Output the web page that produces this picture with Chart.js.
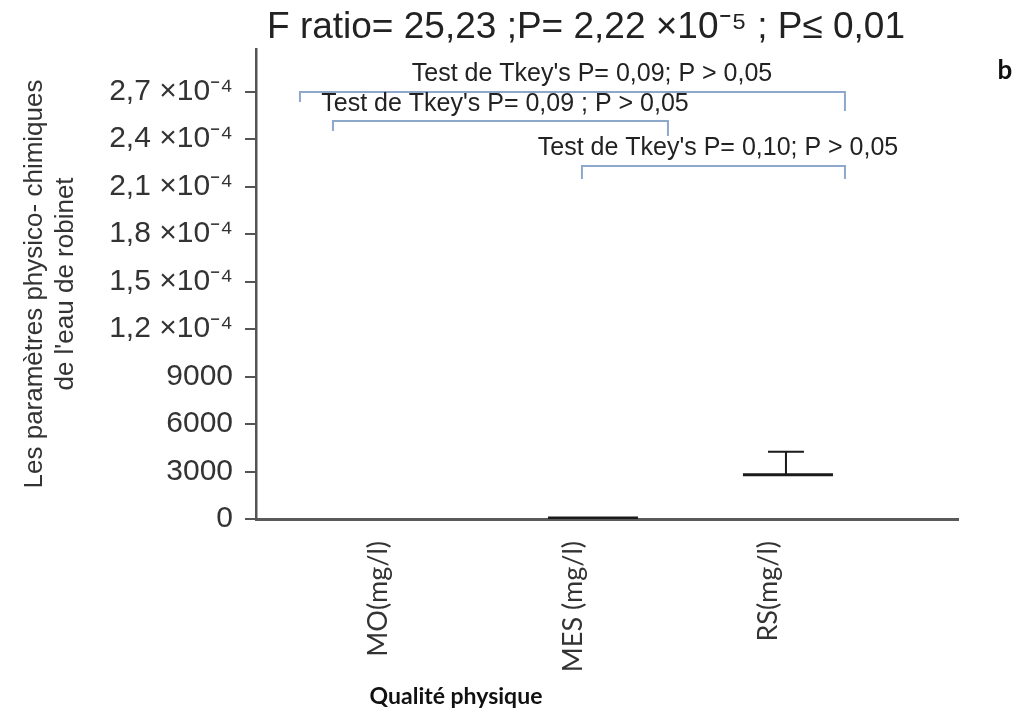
<!DOCTYPE html>
<html>
<head>
<meta charset="utf-8">
<script src="https://cdn.jsdelivr.net/npm/chart.js@4.4.1/dist/chart.umd.min.js"></script>
<style>
  html, body { margin: 0; padding: 0; background: #ffffff; }
  #wrap { width: 1019px; height: 710px; position: relative; }
</style>
</head>
<body>
<div id="wrap"><canvas id="c" width="1019" height="710"></canvas></div>
<script>
// ---- data ----
const categories = ['MO(mg/l)', 'MES (mg/l)', 'RS(mg/l)'];
const means = [null, 60, 2800];
const errorUpper = [null, null, 4250];
const yTickValues = [0, 3000, 6000, 9000, 12000, 15000, 18000, 21000, 24000, 27000];
const yTickLabels = ['0', '3000', '6000', '9000', '1,2 ×10⁻⁴', '1,5 ×10⁻⁴', '1,8 ×10⁻⁴', '2,1 ×10⁻⁴', '2,4 ×10⁻⁴', '2,7 ×10⁻⁴'];
const comparisonPairs = [[0, 2], [0, 1], [1, 2]];
const comparisonTexts = [
  "Test de Tkey's P= 0,09; P > 0,05",
  "Test de Tkey's P= 0,09 ; P > 0,05",
  "Test de Tkey's P= 0,10; P > 0,05"
];
const chartTitle = 'F ratio= 25,23 ;P= 2,22 ×10⁻⁵ ; P≤ 0,01';
const yTitle = ['Les paramètres physico- chimiques', "de l'eau de robinet"];
const xTitle = 'Qualité physique';
const panelLetter = 'b';

// ---- layout of annotations (pixels, not data) ----
const bracketLayout = [
  { dxL: -98, dxR: 57, y: 92, legL: 10, legR: 19, tx: 592, ty: 74 },
  { dxL: -65, dxR: 75, y: 121, legL: 10, legR: 15, tx: 505, ty: 104 },
  { dxL: -11, dxR: 57, y: 166, legL: 13, legR: 13, tx: 718, ty: 148 }
];

const annot = {
  id: 'annot',
  afterDatasetsDraw(chart) {
    const { ctx } = chart;
    const x = chart.scales.x, y = chart.scales.y;
    ctx.save();
    ctx.strokeStyle = '#1a1a1a';
    ctx.lineWidth = 2;
    errorUpper.forEach((u, i) => {
      if (u == null || means[i] == null) return;
      const px = x.getPixelForValue(i) - 2;
      const py0 = y.getPixelForValue(means[i]);
      const py1 = y.getPixelForValue(u);
      ctx.beginPath();
      ctx.moveTo(px, py0);
      ctx.lineTo(px, py1);
      ctx.moveTo(px - 18, py1);
      ctx.lineTo(px + 18, py1);
      ctx.stroke();
    });
    ctx.restore();
  },
  afterDraw(chart) {
    const { ctx } = chart;
    const x = chart.scales.x;
    ctx.save();
    // title
    ctx.fillStyle = '#222';
    ctx.textAlign = 'center';
    ctx.textBaseline = 'middle';
    ctx.font = '37px "Liberation Sans", Arial, sans-serif';
    ctx.fillText(chartTitle, 586, 28);
    // brackets
    comparisonPairs.forEach((pair, k) => {
      const L = bracketLayout[k];
      const x0 = x.getPixelForValue(pair[0]) + L.dxL;
      const x1 = x.getPixelForValue(pair[1]) + L.dxR;
      ctx.strokeStyle = '#8ea8cc';
      ctx.lineWidth = 2;
      ctx.beginPath();
      ctx.moveTo(x0, L.y + L.legL);
      ctx.lineTo(x0, L.y);
      ctx.lineTo(x1, L.y);
      ctx.lineTo(x1, L.y + L.legR);
      ctx.stroke();
      ctx.fillStyle = '#222';
      ctx.font = '25px "Liberation Sans", Arial, sans-serif';
      ctx.fillText(comparisonTexts[k], L.tx, L.ty);
    });
    // x title
    ctx.font = 'bold 23px Lato, "Open Sans", sans-serif';
    ctx.fillStyle = '#111';
    ctx.fillText(xTitle, 456, 697);
    // panel letter
    ctx.font = 'bold 26px Lato, "Open Sans", sans-serif';
    ctx.fillText(panelLetter, 1005, 71);
    ctx.restore();
  }
};

const points = [];
categories.forEach((c, i) => { if (means[i] != null) points.push({ x: i, y: means[i] }); });

new Chart(document.getElementById('c'), {
  type: 'scatter',
  data: {
    datasets: [{
      data: points,
      pointStyle: 'line',
      pointRadius: 45,
      pointHoverRadius: 45,
      borderColor: '#1a1a1a',
      backgroundColor: '#1a1a1a',
      borderWidth: 3,
      pointHoverBorderWidth: 3
    }]
  },
  options: {
    responsive: false,
    animation: false,
    events: [],
    layout: { padding: { top: 49, right: 61, left: 0, bottom: 0 } },
    plugins: { legend: { display: false }, tooltip: { enabled: false }, title: { display: false } },
    scales: {
      x: {
        type: 'linear',
        min: -0.728,
        max: 2.872,
        afterFit(s) { s.height = 191; },
        afterBuildTicks(s) { s.ticks = categories.map((c, i) => ({ value: i })); },
        grid: { display: false },
        border: { display: true, color: '#5a5a5a', width: 3 },
        ticks: {
          autoSkip: false,
          minRotation: 90,
          maxRotation: 90,
          padding: 14,
          labelOffset: -20,
          color: '#333',
          font: { family: 'Lato, "Open Sans", sans-serif', size: 27 },
          callback: (v) => categories[v]
        }
      },
      y: {
        min: 0,
        max: 29700,
        afterFit(s) { s.width = 256; },
        afterBuildTicks(s) { s.ticks = yTickValues.map(v => ({ value: v })); },
        grid: { display: true, drawOnChartArea: false, drawTicks: true, tickLength: 11, color: '#555', lineWidth: 2 },
        border: { display: true, color: '#555', width: 2.5 },
        ticks: {
          autoSkip: false,
          padding: 12,
          color: '#333',
          font: { family: '"Liberation Sans", Arial, sans-serif', size: 30 },
          callback: (v, i) => yTickLabels[i]
        },
        title: {
          display: true,
          text: yTitle,
          color: '#333',
          padding: { top: 19, bottom: 0 },
          font: { family: '"Liberation Sans", Arial, sans-serif', size: 26, lineHeight: 1.2 }
        }
      }
    }
  },
  plugins: [annot]
});
</script>
</body>
</html>
